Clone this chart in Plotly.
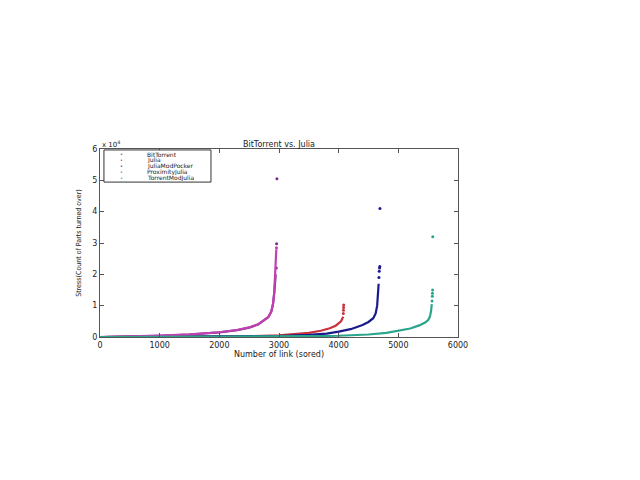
import plotly.graph_objects as go

# ---- data ----
series_names = ["BitTorrent", "Julia", "JuliaModPocker", "ProximityJulia", "TorrentModJulia"]
series_colors = ["#7a2c8a", "#c8323c", "#1a1a8c", "#c040b0", "#2aa58c"]

bt_x = [0, 500, 1000, 1500, 2000, 2300, 2500, 2650, 2750, 2820, 2870, 2900, 2920, 2935, 2945]
bt_y = [0, 150, 400, 800, 1500, 2200, 3000, 4000, 5200, 6300, 8000, 10500, 14000, 17000, 20000]
bt_tail_x = [2955, 2960, 2965]
bt_tail_y = [22000, 29800, 50500]

ju_x = [0, 1000, 2000, 2500, 3000, 3300, 3500, 3700, 3850, 3950, 4000, 4040, 4060, 4075]
ju_y = [0, 50, 150, 250, 500, 900, 1300, 2000, 2800, 3600, 4300, 5000, 5800, 6500]
ju_tail_x = [4078, 4080, 4082, 4084]
ju_tail_y = [7500, 8500, 9400, 10200]

jmp_x = [0, 1000, 2000, 3000, 3500, 3800, 4000, 4200, 4400, 4500, 4580, 4620, 4645, 4660, 4670]
jmp_y = [0, 30, 100, 300, 700, 1100, 1700, 2500, 3800, 4800, 6000, 7500, 10000, 13500, 17000]
jmp_tail_x = [4675, 4680, 4685, 4690, 4692]
jmp_tail_y = [19000, 21000, 22000, 22500, 41000]

pj_x = [0, 500, 1000, 1500, 2000, 2300, 2500, 2650, 2750, 2820, 2870, 2900, 2920, 2935, 2945, 2955]
pj_y = [0, 160, 420, 820, 1520, 2230, 3050, 4050, 5250, 6350, 8100, 10600, 14200, 19000, 24000, 28000]
pj_tail_x = [2958]
pj_tail_y = [28500]

tmj_x = [0, 1000, 2000, 3000, 3500, 4000, 4500, 4800, 5000, 5200, 5350, 5450, 5500, 5530, 5550, 5560]
tmj_y = [0, 20, 60, 150, 250, 400, 800, 1300, 1900, 2700, 3700, 4600, 5400, 6500, 8500, 10500]
tmj_tail_x = [5565, 5570, 5572, 5575, 5577]
tmj_tail_y = [11500, 13000, 14000, 15000, 32000]

y_tick_vals = [0, 10000, 20000, 30000, 40000, 50000, 60000]
y_tick_text = ["0", "1", "2", "3", "4", "5", "6"]
x_tick_vals = [0, 1000, 2000, 3000, 4000, 5000, 6000]

curves = [
    (bt_x, bt_y, bt_tail_x, bt_tail_y),
    (ju_x, ju_y, ju_tail_x, ju_tail_y),
    (jmp_x, jmp_y, jmp_tail_x, jmp_tail_y),
    (pj_x, pj_y, pj_tail_x, pj_tail_y),
    (tmj_x, tmj_y, tmj_tail_x, tmj_tail_y),
]

fig = go.Figure()
for (cx, cy, tx, ty), name, col in zip(curves, series_names, series_colors):
    fig.add_trace(go.Scatter(x=cx, y=cy, mode="lines", line=dict(color=col, width=2.2),
                             name=name, showlegend=False, hoverinfo="skip"))
    fig.add_trace(go.Scatter(x=tx, y=ty, mode="markers", marker=dict(color=col, size=3),
                             name=name, showlegend=False))

FONT = "DejaVu Sans, sans-serif"
NARROW = "Liberation Sans Narrow, DejaVu Sans Condensed, Liberation Sans, sans-serif"

fig.update_layout(
    width=640, height=480,
    margin=dict(l=92, r=190, t=141, b=151),
    paper_bgcolor="white", plot_bgcolor="white",
    showlegend=False,
    font=dict(family=FONT, size=8, color="#222"),
    title=dict(text="BitTorrent vs. Julia", x=0.5, xref="paper", y=1, yref="paper",
               yanchor="bottom", pad=dict(b=2), font=dict(size=8, color="#222")),
)
fig.update_xaxes(range=[0, 6000], tickvals=x_tick_vals, ticks="inside", ticklen=4,
                 showgrid=False, zeroline=False, showline=True, linecolor="#555",
                 linewidth=1, mirror="ticks", tickcolor="#555",
                 title=dict(text="Number of link (sored)", standoff=0, font=dict(size=8)))
fig.update_yaxes(range=[0, 60000], tickvals=y_tick_vals, ticktext=y_tick_text,
                 ticks="inside", ticklen=4, showgrid=False, zeroline=False,
                 showline=True, linecolor="#555", linewidth=1, mirror="ticks",
                 tickcolor="#555",
                 title=dict(text="Stress(Count of Parts turned over)", standoff=9,
                            font=dict(size=7, family=NARROW)))

# exponent label
fig.add_annotation(xref="paper", yref="paper", x=0.0, y=1.0, xanchor="left", yanchor="bottom",
                   text="x 10<sup>4</sup>", showarrow=False, font=dict(size=7, color="#222"),
                   yshift=-2)

# legend box (manual, to match the compact spacing)
leg_x0, leg_x1, leg_y0, leg_y1 = 0.011, 0.31, 0.824, 0.995
fig.add_shape(type="rect", xref="paper", yref="paper", x0=leg_x0, x1=leg_x1, y0=leg_y0, y1=leg_y1,
              line=dict(color="#333", width=1), fillcolor="white", layer="above")
n = len(series_names)
for i, (name, col) in enumerate(zip(series_names, series_colors)):
    yp = leg_y1 - (leg_y1 - leg_y0) * (i + 0.6) / (n + 0.2)
    fig.add_annotation(xref="paper", yref="paper", x=(121.7 - 100) / 358, y=yp,
                       text="•", showarrow=False, font=dict(size=5, color=col),
                       xanchor="center", yanchor="middle")
    fig.add_annotation(xref="paper", yref="paper", x=(145 - 100) / 358, y=yp,
                       text=name, showarrow=False, font=dict(size=6, color="#222"),
                       xanchor="left", yanchor="middle", height=6)

fig.write_html("out.html")
